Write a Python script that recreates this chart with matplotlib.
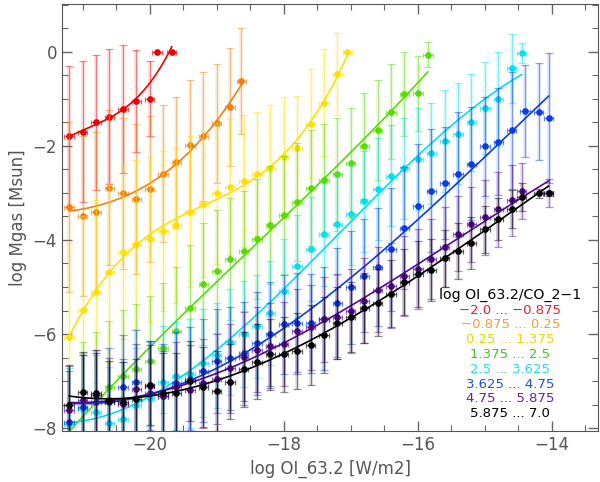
import numpy as np
import matplotlib
matplotlib.use('Agg')
import matplotlib.pyplot as plt
from matplotlib.ticker import MultipleLocator

# bins of log OI_63.2 flux, one series per range of log OI_63.2/CO_2-1
red_x = [-21.2, -21.0, -20.8, -20.6, -20.4, -20.2, -20.0, -19.89, -19.67]
red_y = [-1.80, -1.70, -1.50, -1.38, -1.21, -1.05, -1.00, 0.0, 0.0]
red_err = [1.5, 1.5, 1.44, 1.44, 1.36, 1.09, 0.80, 0, 0]

orange_x = [-21.2, -21.0, -20.8, -20.6, -20.4, -20.2, -20.0, -19.8, -19.6, -19.4, -19.2, -19.0, -18.8, -18.63]
orange_y = [-3.30, -3.50, -3.41, -2.89, -3.01, -3.13, -2.92, -2.59, -2.35, -1.99, -1.80, -1.52, -1.17, -0.62]
orange_err = [1.8, 1.7, 1.7, 1.65, 1.6, 1.6, 1.55, 1.45, 1.4, 1.4, 1.38, 1.26, 1.25, 1.12]

yellow_x = [-21.2, -21.0, -20.8, -20.6, -20.4, -20.2, -20.0, -19.8, -19.6, -19.4, -19.2,
            -19.0, -18.8, -18.6, -18.4, -18.2, -18.0, -17.8, -17.6, -17.4, -17.2, -17.05]
yellow_y = [-6.06, -5.49, -5.10, -4.69, -4.26, -4.09, -3.99, -3.81, -3.69, -3.40, -3.23,
            -3.01, -2.87, -2.74, -2.60, -2.46, -2.24, -2.04, -1.53, -1.08, -0.47, 0.0]
yellow_err = [2.0, 2.0, 1.95, 1.9, 1.85, 1.8, 1.75, 1.7, 1.65, 1.6, 1.55,
              1.5, 1.45, 1.4, 1.32, 1.33, 1.29, 1.1, 1.16, 1.14, 0.87, 0]

green_x = [-21.0, -20.8, -20.6, -20.4, -20.2, -20.0, -19.8, -19.6, -19.4, -19.2, -19.0, -18.8, -18.6, -18.4,
           -18.2, -18.0, -17.8, -17.6, -17.4, -17.2, -17.0, -16.8, -16.6, -16.4, -16.2, -16.0, -15.85]
green_y = [-7.58, -7.35, -7.12, -6.89, -6.75, -6.57, -6.30, -5.93, -5.45, -4.94, -4.67, -4.40, -4.24, -3.98,
           -3.68, -3.47, -3.19, -2.90, -2.72, -2.60, -2.37, -2.00, -1.66, -1.27, -0.89, -0.88, -0.06]
green_err = [1.4, 1.4, 1.4, 1.4, 1.38, 1.38, 1.38, 1.35, 1.35, 1.3, 1.3, 1.3, 1.28, 1.28,
             1.25, 1.25, 1.25, 1.23, 1.19, 1.2, 1.17, 1.13, 1.06, 1.01, 0.89, 0.8, 0.26]

cyan_x = [-21.2, -21.0, -20.8, -20.6, -20.4, -20.2, -20.0, -19.8, -19.6, -19.4, -19.2, -19.0, -18.8, -18.6,
          -18.4, -18.2, -18.0, -17.8, -17.6, -17.4, -17.2, -17.0, -16.8, -16.6, -16.4, -16.2, -16.0, -15.8,
          -15.6, -15.4, -15.2, -15.0, -14.8, -14.6, -14.45]
cyan_y = [-7.92, -7.60, -7.65, -7.90, -7.80, -7.50, -7.35, -7.01, -6.89, -6.84, -6.62, -6.45, -6.17, -6.00,
          -5.84, -5.55, -5.08, -4.56, -4.19, -3.88, -3.66, -3.45, -3.18, -2.92, -2.63, -2.48, -2.28, -2.16,
          -1.89, -1.74, -1.50, -1.20, -1.00, -0.35, -0.03]
cyan_err = [1.2, 1.2, 1.2, 1.2, 1.2, 1.2, 1.18, 1.18, 1.15, 1.15, 1.15, 1.12, 1.12, 1.12,
            1.1, 1.1, 1.1, 1.1, 1.1, 1.1, 1.08, 1.08, 1.08, 1.08, 1.08, 1.08, 1.08, 1.08,
            1.08, 1.07, 1.03, 0.98, 1.0, 0.73, 0.21]

blue_x = [-21.2, -21.0, -20.8, -20.6, -20.4, -20.2, -20.0, -19.8, -19.6, -19.4, -19.2, -19.0, -18.8, -18.6,
          -18.4, -18.2, -18.0, -17.8, -17.6, -17.4, -17.2, -17.0, -16.8, -16.6, -16.4, -16.2, -16.0, -15.8,
          -15.6, -15.4, -15.2, -15.0, -14.8, -14.6, -14.4, -14.2, -14.05]
blue_y = [-7.88, -7.55, -7.45, -7.40, -7.13, -7.02, -7.25, -7.32, -7.05, -6.95, -6.78, -6.57, -6.52, -6.41,
          -6.20, -6.00, -5.79, -5.76, -5.77, -5.67, -5.33, -5.01, -4.76, -4.57, -4.20, -3.75, -3.28, -2.95,
          -2.79, -2.60, -2.38, -2.01, -1.91, -1.67, -1.26, -1.27, -1.41]
blue_err = [1.1, 1.1, 1.1, 1.1, 1.1, 1.1, 1.1, 1.1, 1.1, 1.1, 1.1, 1.1, 1.1, 1.1,
            1.1, 1.1, 1.05, 1.05, 1.05, 1.1, 1.15, 1.2, 1.2, 1.25, 1.3, 1.3, 1.32, 1.3,
            1.2, 1.33, 1.2, 1.05, 1.14, 1.24, 0.97, 1.03, 1.38]

purple_x = [-21.2, -21.0, -20.8, -20.6, -20.4, -20.2, -20.0, -19.8, -19.6, -19.4, -19.2, -19.0, -18.8, -18.6,
            -18.4, -18.2, -18.0, -17.8, -17.6, -17.4, -17.2, -17.0, -16.8, -16.6, -16.4, -16.2, -16.0, -15.8,
            -15.6, -15.4, -15.2, -15.0, -14.8, -14.6, -14.45, -14.05]
purple_y = [-7.62, -7.40, -7.30, -7.45, -7.49, -7.16, -7.10, -7.31, -7.12, -7.19, -7.05, -6.96, -6.73, -6.48,
            -6.33, -6.25, -6.21, -5.94, -5.86, -5.69, -5.63, -5.51, -5.29, -5.06, -4.97, -4.76, -4.62, -4.40,
            -4.15, -3.87, -3.67, -3.52, -3.35, -3.16, -2.96, -3.00]
purple_err = [0.95, 0.95, 0.95, 0.95, 0.95, 0.95, 0.95, 0.95, 0.95, 0.95, 0.95, 0.95, 0.95, 0.95,
              0.9, 0.9, 0.9, 0.9, 0.9, 0.9, 0.9, 0.9, 0.9, 0.9, 0.9, 0.85, 0.85, 0.85,
              0.85, 0.8, 0.8, 0.8, 0.8, 0.75, 0.6, 0.3]

black_x = [-21.2, -21.0, -20.8, -20.6, -20.4, -20.2, -20.0, -19.8, -19.6, -19.4, -19.2, -19.0, -18.8, -18.6,
           -18.4, -18.2, -18.0, -17.8, -17.6, -17.4, -17.2, -17.0, -16.8, -16.6, -16.4, -16.2, -16.0, -15.8,
           -15.6, -15.4, -15.2, -15.0, -14.8, -14.6, -14.45, -14.2, -14.05]
black_y = [-7.51, -7.23, -7.26, -7.43, -7.44, -7.38, -7.08, -7.25, -7.25, -7.00, -7.12, -7.21, -7.01, -6.75,
           -6.59, -6.43, -6.43, -6.36, -6.23, -6.02, -5.77, -5.64, -5.45, -5.33, -5.14, -4.89, -4.73, -4.64,
           -4.39, -4.23, -4.07, -3.77, -3.56, -3.34, -3.09, -3.01, -3.01]
black_err = [0.85, 0.85, 0.85, 0.85, 0.85, 0.85, 0.85, 0.85, 0.85, 0.85, 0.85, 0.85, 0.8, 0.8,
             0.8, 0.76, 0.8, 0.8, 0.85, 0.81, 0.76, 0.75, 0.75, 0.72, 0.72, 0.7, 0.7, 0.65,
             0.6, 0.6, 0.55, 0.5, 0.45, 0.4, 0.3, 0.1, 0.05]

range_labels = ['\u22122.0 ... \u22120.875', '\u22120.875 ... 0.25', '0.25 ... 1.375', '1.375 ... 2.5',
                '2.5 ... 3.625', '3.625 ... 4.75', '4.75 ... 5.875', '5.875 ... 7.0']

series = [
    (red_x, red_y, red_err, '#ee0000', '#e8202a'),
    (orange_x, orange_y, orange_err, '#f08010', '#f0a040'),
    (yellow_x, yellow_y, yellow_err, '#ffe000', '#e8d800'),
    (green_x, green_y, green_err, '#55dd00', '#40c820'),
    (cyan_x, cyan_y, cyan_err, '#00e0ee', '#30d8e8'),
    (blue_x, blue_y, blue_err, '#0a3ce6', '#2050e0'),
    (purple_x, purple_y, purple_err, '#550a90', '#6a20a0'),
    (black_x, black_y, black_err, '#000000', '#000000'),
]

fig = plt.figure(figsize=(6.0, 4.82), dpi=100)
ax = fig.add_axes([0.103, 0.106, 0.894, 0.886])

for x, y, err, col, txtcol in series:
    # wide pale bar + thin bar, like the two error estimates of the original
    ax.errorbar(x, y, yerr=err, fmt='none', ecolor=col, elinewidth=2.6, alpha=0.13, capsize=0)
    ax.errorbar(x, y, yerr=err, fmt='none', ecolor=col, elinewidth=0.9, alpha=0.45,
                capsize=3, capthick=0.9)
    ax.errorbar(x, y, xerr=0.07, fmt='none', ecolor=col, elinewidth=0.9, alpha=0.6,
                capsize=1.8, capthick=0.9)
    ax.plot(x, y, 'o', color=col, ms=3.8, mec=col)
    coef = np.polyfit(x, y, 3)
    xf = np.linspace(-21.2, x[-1], 200)
    ax.plot(xf, np.polyval(coef, xf), color=col, lw=1.2)

ax.set_xlim(-21.31, -13.31)
ax.set_ylim(-8.06, 1.02)
ax.xaxis.set_major_locator(MultipleLocator(2))
ax.xaxis.set_minor_locator(MultipleLocator(0.5))
ax.yaxis.set_major_locator(MultipleLocator(2))
ax.yaxis.set_minor_locator(MultipleLocator(0.5))
ax.tick_params(which='both', direction='in', top=True, right=True, colors='#666666',
               labelsize=12, labelcolor='#555555')
ax.tick_params(which='major', length=7, width=1)
ax.tick_params(which='minor', length=4, width=0.8)
for s in ax.spines.values():
    s.set_color('#555555')

ax.set_xlabel('log OI_63.2 [W/m2]', fontsize=12, color='#555555')
ax.set_ylabel('log Mgas [Msun]', fontsize=12, color='#555555')

ax.text(0.836, 0.318, 'log OI_63.2/CO_2\u22121', transform=ax.transAxes, ha='center', va='center',
        fontsize=10.2, color='black')
for i, (lab, s) in enumerate(zip(range_labels, series)):
    ax.text(0.836, 0.283 - i * 0.0347, lab, transform=ax.transAxes, ha='center', va='center',
            fontsize=9.5, color=s[4])

fig.savefig('out.png', dpi=100)
